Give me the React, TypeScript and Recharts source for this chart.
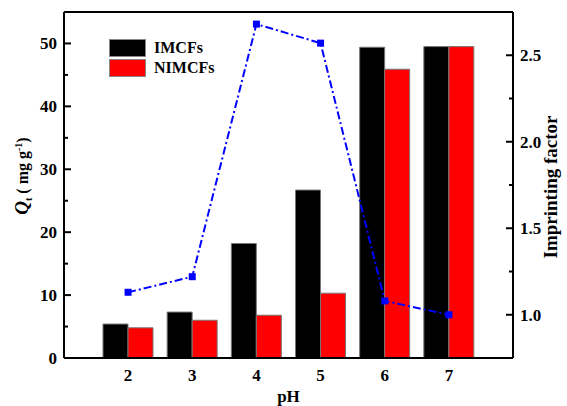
import {
  Bar,
  ComposedChart,
  Line,
  ReferenceLine,
  XAxis,
  YAxis,
} from "recharts";

const phLevels = ["2", "3", "4", "5", "6", "7"];
const imcfs = [5.4, 7.3, 18.2, 26.7, 49.4, 49.5];
const nimcfs = [4.8, 6.0, 6.8, 10.3, 45.9, 49.5];
const imprintingFactor = [1.13, 1.22, 2.68, 2.57, 1.08, 1.0];

const leftTicks = [0, 5, 10, 15, 20, 25, 30, 35, 40, 45, 50];
const rightTicks = [1.0, 1.25, 1.5, 1.75, 2.0, 2.25, 2.5];

const data = phLevels.map((ph, i) => ({
  ph,
  imcfs: imcfs[i],
  nimcfs: nimcfs[i],
  factor: imprintingFactor[i],
}));

const FONT = '"Liberation Serif", "Times New Roman", serif';

function LeftTick(props: any) {
  const { x, y, payload } = props;
  const major = payload.value % 10 === 0;
  return (
    <g>
      <line x1={x} x2={x + (major ? 7 : 4)} y1={y} y2={y} stroke="#000" strokeWidth={2} />
      {major && (
        <text x={x - 7} y={y} dy="0.35em" textAnchor="end" fontFamily={FONT} fontWeight="bold" fontSize={17} fill="#000">
          {payload.value}
        </text>
      )}
    </g>
  );
}

function RightTick(props: any) {
  const { x, y, payload } = props;
  const major = Math.abs((payload.value * 2) % 1) < 1e-6;
  return (
    <g>
      <line x1={x} x2={x - (major ? 7 : 4)} y1={y} y2={y} stroke="#000" strokeWidth={2} />
      {major && (
        <text x={x + 7} y={y} dy="0.35em" textAnchor="start" fontFamily={FONT} fontWeight="bold" fontSize={17} fill="#000">
          {payload.value.toFixed(1)}
        </text>
      )}
    </g>
  );
}

function SquareDot(props: any) {
  const { cx, cy } = props;
  if (cx == null || cy == null) return null;
  return <rect x={cx - 3.5} y={cy - 3.5} width={7} height={7} fill="#0000FF" />;
}

const legendItems = [
  { name: "IMCFs", color: "#000" },
  { name: "NIMCFs", color: "#FF0000" },
];

function LegendBox() {
  return (
    <div
      style={{
        position: "absolute",
        left: 109,
        top: 38,
        fontFamily: FONT,
        fontWeight: "bold",
        fontSize: 16,
        lineHeight: "20px",
      }}
    >
      {legendItems.map((it) => (
        <div key={it.name} style={{ display: "flex", alignItems: "center", height: 20 }}>
          <span
            style={{
              display: "inline-block",
              width: 35,
              height: 16,
              background: it.color,
              border: "1px solid #888",
              marginRight: 8,
            }}
          />
          {it.name}
        </div>
      ))}
    </div>
  );
}

export default function App() {
  return (
    <div style={{ position: "absolute", left: 0, top: 0, width: 567, height: 406, background: "#fff" }}>
      <ComposedChart
        width={567}
        height={406}
        data={data}
        margin={{ top: 12, right: 0, bottom: 0, left: 0 }}
        barGap={0}
      >
        <XAxis
          dataKey="ph"
          height={48}
          padding={{ left: 32, right: 32 }}
          axisLine={{ stroke: "#000", strokeWidth: 2 }}
          tickLine={false}
          tickSize={0}
          tickMargin={11}
          tick={{ fontFamily: FONT, fontWeight: "bold", fontSize: 17, fill: "#000" }}
          label={{
            value: "pH",
            position: "insideBottom",
            offset: 4,
            style: { fontFamily: FONT, fontWeight: "bold", fontSize: 17, fill: "#000" },
          }}
        />
        <YAxis
          yAxisId="left"
          width={64}
          domain={[0, 55]}
          ticks={leftTicks}
          interval={0}
          axisLine={{ stroke: "#000", strokeWidth: 2 }}
          tickLine={false}
          tickSize={0}
          tickMargin={0}
          tick={<LeftTick />}
          label={{
            content: () => (
              <text
                transform="translate(28,176) rotate(-90)"
                textAnchor="middle"
                fontFamily={FONT}
                fontWeight="bold"
                fontSize={16}
                fill="#000"
              >
                <tspan fontStyle="italic" fontSize={19}>Q</tspan>
                <tspan fontSize={10} dy={4}>t</tspan>
                <tspan dy={-4}> ( mg g</tspan>
                <tspan fontSize={10} dy={-6}>-1</tspan>
                <tspan dy={6}>)</tspan>
              </text>
            ),
          }}
        />
        <YAxis
          yAxisId="right"
          orientation="right"
          width={54}
          domain={[0.75, 2.75]}
          ticks={rightTicks}
          interval={0}
          axisLine={{ stroke: "#000", strokeWidth: 2 }}
          tickLine={false}
          tickSize={0}
          tickMargin={0}
          tick={<RightTick />}
          label={{
            content: () => (
              <text
                transform="translate(557,187) rotate(-90)"
                textAnchor="middle"
                fontFamily={FONT}
                fontWeight="bold"
                fontSize={19}
                fill="#000"
              >
                Imprinting factor
              </text>
            ),
          }}
        />
        <ReferenceLine yAxisId="left" y={55} stroke="#000" strokeWidth={2} ifOverflow="visible" />
        <Bar
          yAxisId="left"
          dataKey="imcfs"
          name="IMCFs"
          fill="#000"
          stroke="#777"
          strokeWidth={1}
          barSize={25}
          isAnimationActive={false}
        />
        <Bar
          yAxisId="left"
          dataKey="nimcfs"
          name="NIMCFs"
          fill="#FF0000"
          stroke="#777"
          strokeWidth={1}
          barSize={25}
          isAnimationActive={false}
        />
        <Line
          yAxisId="right"
          dataKey="factor"
          stroke="#0000FF"
          strokeWidth={2}
          strokeDasharray="8 3 2 3"
          dot={<SquareDot />}
          activeDot={false}
          isAnimationActive={false}
        />
      </ComposedChart>
      <LegendBox />
    </div>
  );
}
